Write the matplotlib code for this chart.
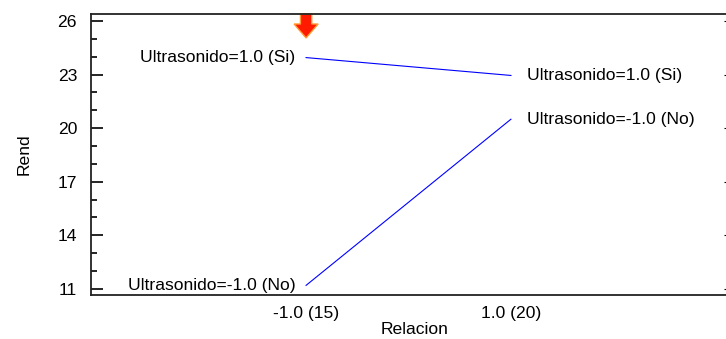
import numpy as np
import matplotlib
matplotlib.use('Agg')
from matplotlib import pyplot as plt
from matplotlib.patches import FancyArrow

plt.rcParams['font.family'] = ['Liberation Sans', 'DejaVu Sans']
plt.rcParams['font.size'] = 12.6

relacion = [-1.0, 1.0]
relacion_labels = ['-1.0 (15)', '1.0 (20)']
rend_si = [23.95, 22.95]
rend_no = [11.2, 20.5]
label_si = 'Ultrasonido=1.0 (Si)'
label_no = 'Ultrasonido=-1.0 (No)'
yticks = [11, 14, 17, 20, 23, 26]

fig = plt.figure(figsize=(7.26, 3.39), dpi=100)
ax = fig.add_axes([91/726, 1 - 295/339, 1 - 91/726, (295 - 14)/339])

ax.plot(relacion, rend_si, color='#0000ff', lw=0.8)
ax.plot(relacion, rend_no, color='#0000ff', lw=0.8)

# series labels at both ends
for ys, lab in [(rend_si, label_si), (rend_no, label_no)]:
    ax.annotate(lab, (relacion[0], ys[0]), xytext=(-7.5, 0), textcoords='offset points',
                ha='right', va='center')
    ax.annotate(lab, (relacion[1], ys[1]), xytext=(11.5, 0), textcoords='offset points',
                ha='left', va='center')

ax.set_xlim(-3.1, 3.1)
ax.set_ylim(10.66, 26.39)

ax.set_xticks(relacion)
ax.set_xticklabels(relacion_labels)
ax.tick_params(axis='x', length=0, pad=8)
ax.set_yticks(yticks)
ax.set_yticks(np.arange(11, 27), minor=True)
ax.tick_params(axis='y', which='major', direction='in', length=8.6, width=1.2, right=True, pad=10)
ax.tick_params(axis='y', which='minor', direction='in', length=4.3, width=1.2)
for t in ax.yaxis.get_major_ticks():
    t.tick2line.set_markersize(1.5)
    t.tick2line.set_markeredgewidth(0.8)

for s in ['left', 'bottom', 'top']:
    ax.spines[s].set_linewidth(1.3)
    ax.spines[s].set_color('#222222')
ax.spines['right'].set_visible(False)

ax.set_xlabel('Relacion', labelpad=2)
ax.xaxis.set_label_coords(0.51, -0.095)
ax.xaxis.label.set_va('top')
ax.set_ylabel('Rend', labelpad=19)

# red marker arrow at the top
ax.add_patch(FancyArrow(relacion[0], 26.39, 0, -0.56, width=0.11, head_width=0.235,
                        head_length=0.78, length_includes_head=False,
                        facecolor='#ff1a00', edgecolor='#ff9a33', lw=1, clip_on=False))

fig.savefig('out.png', dpi=100)
